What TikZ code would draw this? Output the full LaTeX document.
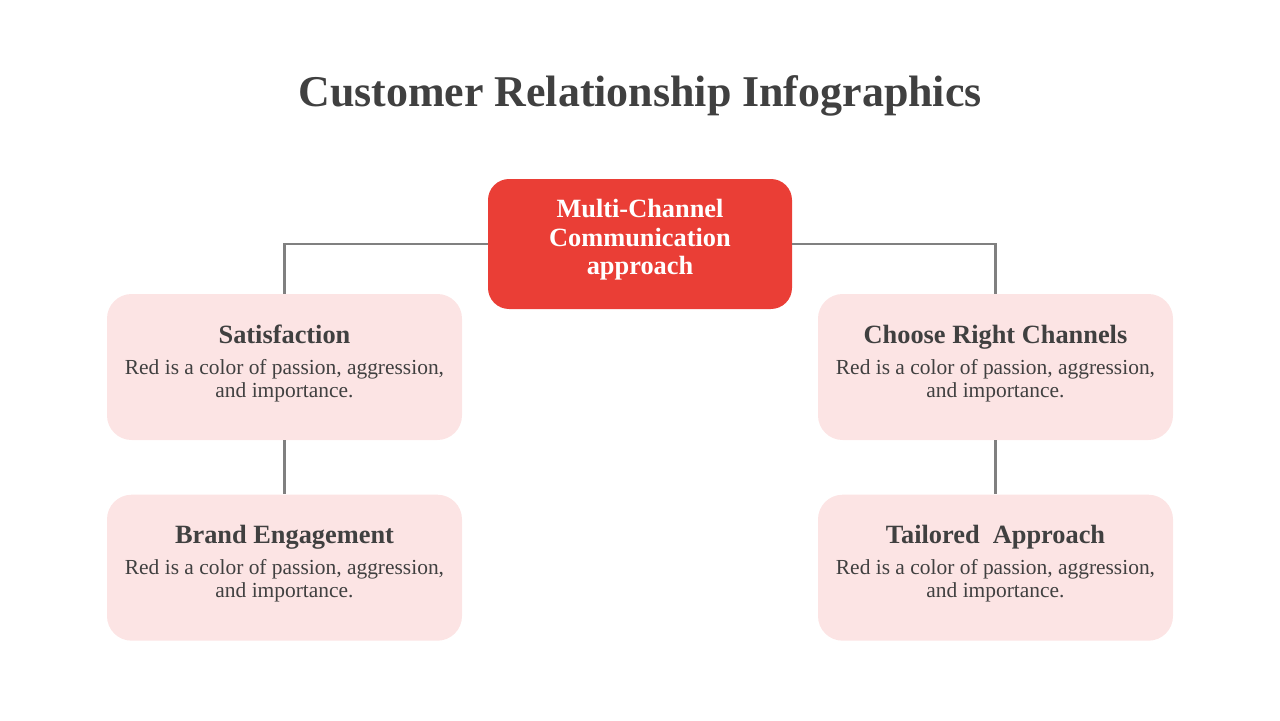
\documentclass[tikz,border=0pt]{standalone}
\usepackage{xcolor}
\usepackage{fontspec}
\setmainfont{Liberation Serif}
\usepackage{tikz}
\usetikzlibrary{positioning}

\definecolor{hubred}{RGB}{234,62,54}
\definecolor{cardpink}{RGB}{252,228,228}
\definecolor{linegray}{RGB}{128,128,128}
\definecolor{textgray}{RGB}{64,64,64}

\newcommand{\cardhead}[1]{{\fontsize{15}{16}\selectfont\bfseries #1}\\[4.5pt]}
\newcommand{\cardbody}{Red is a color of passion, aggression,\\and importance.\rule[-6.7pt]{0pt}{6.7pt}}

\begin{document}
\begin{tikzpicture}[
    node distance=1.08cm,
    hub/.style={rectangle, fill=hubred, rounded corners=12pt, minimum width=6.08cm, minimum height=2.6cm, align=center, text=white, font=\fontsize{15}{16.2}\selectfont\bfseries},
    card/.style={rectangle, fill=cardpink, rounded corners=14pt, minimum width=7.1cm, minimum height=2.92cm, align=center, text=textgray, font=\fontsize{12.2}{13.1}\selectfont},
    link/.style={draw=linegray, line width=1.7pt},
    heading/.style={font=\fontsize{25}{30}\selectfont\bfseries, text=textgray},
]

\useasboundingbox (0,0) rectangle (25.6,-14.4);

\node[heading] (title) at (12.8,-1.92) {Customer Relationship Infographics};

\node[hub] (mcc) at (12.8,-4.88) {Multi-Channel\\Communication\\approach\rule[-8pt]{0pt}{8pt}};

\node[card] (sat) at (5.69,-7.34) {\cardhead{Satisfaction}\cardbody};
\node[card, below=of sat] (brand) {\cardhead{Brand Engagement}\cardbody};

\node[card] (choose) at (19.91,-7.34) {\cardhead{Choose Right Channels}\cardbody};
\node[card, below=of choose] (tailored) {\cardhead{Tailored\ \ Approach}\cardbody};

\draw[link] (mcc.west) -| (sat.north);
\draw[link] (mcc.east) -| (choose.north);
\draw[link] (sat) -- (brand);
\draw[link] (choose) -- (tailored);

\end{tikzpicture}
\end{document}
